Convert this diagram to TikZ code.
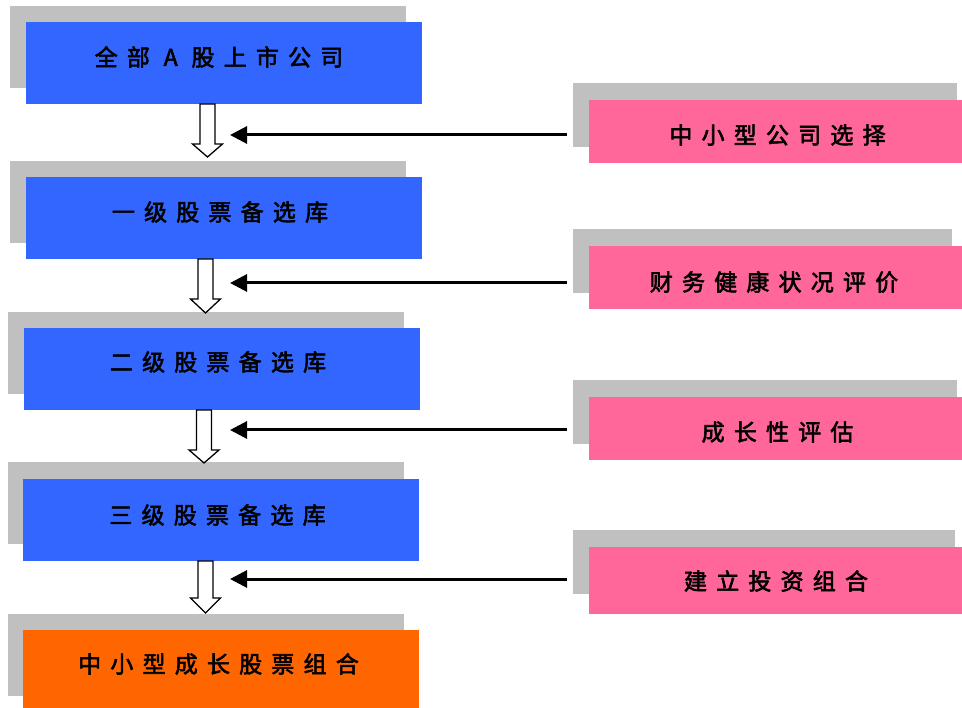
\documentclass[tikz,border=0pt]{standalone}
\usepackage{fontspec}
\newfontfamily\cjk[FakeBold=2.5]{Noto Sans CJK SC}
\usetikzlibrary{arrows.meta}
\definecolor{boxblue}{HTML}{3366FF}
\definecolor{boxpink}{HTML}{FF6699}
\definecolor{boxorange}{HTML}{FF6600}
\definecolor{shadowgray}{HTML}{C0C0C0}
\tikzset{
  x=1pt, y=-1pt,
  shadowbox/.style={fill=shadowgray, draw=none, inner sep=0pt, anchor=north west},
  leftbox/.style={draw=none, inner sep=0pt, anchor=north west, minimum width=396pt, minimum height=82pt},
  rightbox/.style={fill=boxpink, draw=none, inner sep=0pt, anchor=north west, minimum width=373pt, minimum height=63pt},
  txt/.style={font=\cjk\fontsize{23}{26}\selectfont, text=black, inner sep=0pt,
    execute at begin node={\spaceskip=0.4em\relax}},
  hollowarrow/.style={draw=black, fill=white, line width=1.3pt, line join=miter},
  feedline/.style={draw=black, line width=3pt, -{Triangle[length=17pt,width=17pt]}},
}
\newcommand\blockarrow[4]{% x, ytop, yhead, ytip
  \draw[hollowarrow] (#1-7.5,#2) -- (#1+7.5,#2) -- (#1+7.5,#3) -- (#1+15,#3) -- (#1,#4)
    -- (#1-15,#3) -- (#1-7.5,#3) -- cycle;}
\begin{document}
\begin{tikzpicture}
\useasboundingbox[fill=white] (0,0) rectangle (962,708);
% left column shadows
\node[shadowbox, minimum width=396pt, minimum height=82pt] (s1) at (10,6) {};
\node[shadowbox, minimum width=396pt, minimum height=82pt] (s2) at (10,161) {};
\node[shadowbox, minimum width=396pt, minimum height=82pt] (s3) at (8,312) {};
\node[shadowbox, minimum width=396pt, minimum height=82pt] (s4) at (8,462) {};
\node[shadowbox, minimum width=396pt, minimum height=82pt] (s5) at (8,614) {};
% left column boxes
\node[leftbox, fill=boxblue] (b1) at (26,22) {};
\node[leftbox, fill=boxblue] (b2) at (26,177) {};
\node[leftbox, fill=boxblue] (b3) at (24,328) {};
\node[leftbox, fill=boxblue] (b4) at (23,479) {};
\node[leftbox, fill=boxorange, minimum height=79pt] (b5) at (23,630) {};
\node[txt] (t1) at (219,57) {全 部\hspace{0.6em}A\hspace{0.6em}股 上 市 公 司};
\node[txt] (t2) at (220,212) {一 级 股 票 备 选 库};
\node[txt] (t3) at (218,362) {二 级 股 票 备 选 库};
\node[txt] (t4) at (217.5,515) {三 级 股 票 备 选 库};
\node[txt] (t5) at (218.5,664) {中 小 型 成 长 股 票 组 合};
% right column shadows
\node[shadowbox, minimum width=384pt, minimum height=64pt] (r1s) at (573,83) {};
\node[shadowbox, minimum width=379pt, minimum height=64pt] (r2s) at (573,229) {};
\node[shadowbox, minimum width=384pt, minimum height=64pt] (r3s) at (573,380) {};
\node[shadowbox, minimum width=382pt, minimum height=64pt] (r4s) at (573,530) {};
% right column boxes
\node[rightbox] (r1) at (589,100) {};
\node[rightbox] (r2) at (589,246) {};
\node[rightbox] (r3) at (589,397) {};
\node[rightbox, minimum height=67pt] (r4) at (589,547) {};
\node[txt] (u1) at (777.5,135) {中 小 型 公 司 选 择};
\node[txt] (u2) at (774,282) {财 务 健 康 状 况 评 价};
\node[txt] (u3) at (777.5,432) {成 长 性 评 估};
\node[txt] (u4) at (776,581) {建 立 投 资 组 合};
% hollow down arrows
\blockarrow{207.5}{104}{144}{157}
\blockarrow{205.5}{259}{299}{313}
\blockarrow{204}{410}{450}{463}
\blockarrow{205.5}{561}{598}{613}
% feed arrows
\coordinate (f1) at (567,135); \coordinate (g1) at (230,135);
\coordinate (f2) at (567,283); \coordinate (g2) at (230,283);
\coordinate (f3) at (567,430); \coordinate (g3) at (230,430);
\coordinate (f4) at (567,579); \coordinate (g4) at (230,579);
\draw[feedline] (f1) -- (g1);
\draw[feedline] (f2) -- (g2);
\draw[feedline] (f3) -- (g3);
\draw[feedline] (f4) -- (g4);
\end{tikzpicture}
\end{document}
